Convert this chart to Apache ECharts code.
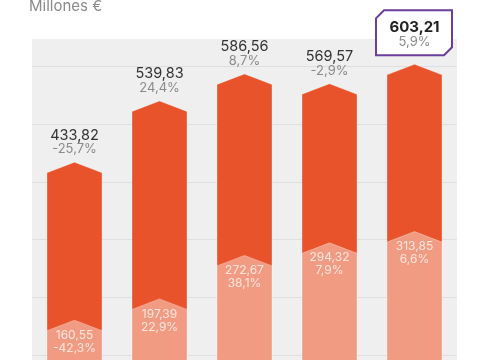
<!DOCTYPE html>
<html>
<head>
<meta charset="utf-8">
<script src="https://cdn.jsdelivr.net/npm/echarts@6/dist/echarts.min.js"></script>
<style>html,body{margin:0;padding:0;background:#fff;}#c{width:480px;height:360px;}</style>
</head>
<body>
<div id="c"></div>
<script>
const categories = ['1', '2', '3', '4', '5'];
const totalValues = [433.82, 539.83, 586.56, 569.57, 603.21];
const totalPct = [-25.7, 24.4, 8.7, -2.9, 5.9];
const innerValues = [160.55, 197.39, 272.67, 294.32, 313.85];
const innerPct = [-42.3, 22.9, 38.1, 7.9, 6.6];
const yTicks = [0, 100, 200, 300, 400, 500, 600];

const FONT = 'Inter, Roboto, sans-serif';
const fmt = (v) => v.toFixed(2).replace('.', ',');
const fmtPct = (v) => v.toFixed(1).replace('.', ',') + '%';

function pentagon(api, i, v, fill) {
  const top = api.coord([i, v]);
  const base = api.coord([i, 0]);
  const w = api.size([1, 0])[0] * 0.647;
  const h = 10.5;
  const cx = top[0];
  return {
    type: 'polygon',
    shape: { points: [[cx - w / 2, base[1]], [cx - w / 2, top[1] + h], [cx, top[1]], [cx + w / 2, top[1] + h], [cx + w / 2, base[1]]] },
    style: { fill: fill, stroke: 'rgba(255,255,255,0.3)', lineWidth: 1 }
  };
}

function renderTotal(params, api) {
  const i = api.value(0), v = api.value(1);
  const top = api.coord([i, v]);
  const cx = top[0], ay = top[1];
  const children = [pentagon(api, i, v, '#e9532b')];
  const idx = params.dataIndex;
  if (idx === totalValues.length - 1) {
    const x0 = cx - 38.5, x1 = cx + 37.5, y0 = ay - 54, y1 = ay - 9, c = 8;
    children.push({
      type: 'polygon',
      shape: { points: [[x0 + c, y0], [x1, y0], [x1, y1 - c], [x1 - c, y1], [x0, y1], [x0, y0 + c]] },
      style: { fill: '#fff', stroke: '#6b3d9e', lineWidth: 2 }
    });
    children.push({ type: 'text', style: { text: fmt(totalValues[idx]), x: cx, y: ay - 37, align: 'center', verticalAlign: 'middle', font: 'bold 15px ' + FONT, fill: '#222' } });
    children.push({ type: 'text', style: { text: fmtPct(totalPct[idx]), x: cx, y: ay - 22, align: 'center', verticalAlign: 'middle', font: '13px ' + FONT, fill: '#8a8a8a' } });
  } else {
    children.push({ type: 'text', style: { text: fmt(totalValues[idx]), x: cx, y: ay - 27, align: 'center', verticalAlign: 'middle', font: '14.5px ' + FONT, fill: '#333' } });
    children.push({ type: 'text', style: { text: fmtPct(totalPct[idx]), x: cx, y: ay - 13, align: 'center', verticalAlign: 'middle', font: '13px ' + FONT, fill: '#8a8a8a' } });
  }
  return { type: 'group', children: children };
}

function renderInner(params, api) {
  const i = api.value(0), v = api.value(1);
  const top = api.coord([i, v]);
  const cx = top[0], ay = top[1];
  const idx = params.dataIndex;
  return {
    type: 'group',
    children: [
      pentagon(api, i, v, '#f29b83'),
      { type: 'text', style: { text: fmt(innerValues[idx]), x: cx, y: ay + 15, align: 'center', verticalAlign: 'middle', font: '12px ' + FONT, fill: '#fde6de' } },
      { type: 'text', style: { text: fmtPct(innerPct[idx]), x: cx, y: ay + 28, align: 'center', verticalAlign: 'middle', font: '12px ' + FONT, fill: '#fde6de' } }
    ]
  };
}

const chart = echarts.init(document.getElementById('c'), null, { renderer: 'canvas' });
chart.setOption({
  animation: false,
  backgroundColor: '#fff',
  title: { text: 'Millones €', left: 24, top: -6, textStyle: { fontSize: 15, fontWeight: 'normal', color: '#8a8a8a', fontFamily: FONT } },
  grid: { left: 32, top: 39, width: 425, height: 374, outerBoundsMode: 'none', containLabel: false, show: true, backgroundColor: '#efefef', borderWidth: 0 },
  xAxis: { type: 'category', data: categories, axisLine: { show: false }, axisTick: { show: false }, axisLabel: { show: false } },
  yAxis: {
    type: 'value', min: yTicks[0], max: 647, interval: 100,
    axisLabel: { show: false }, axisLine: { show: false }, axisTick: { show: false },
    splitLine: { lineStyle: { color: ['#dfdfdf', '#dfdfdf', '#dfdfdf', '#dfdfdf', '#dfdfdf', '#dfdfdf', '#dfdfdf', '#efefef'], width: 1 } }
  },
  series: [
    { type: 'custom', renderItem: renderTotal, data: totalValues.map((v, i) => [i, v]), z: 2 },
    { type: 'custom', renderItem: renderInner, data: innerValues.map((v, i) => [i, v]), z: 3 }
  ]
});
</script>
</body>
</html>
